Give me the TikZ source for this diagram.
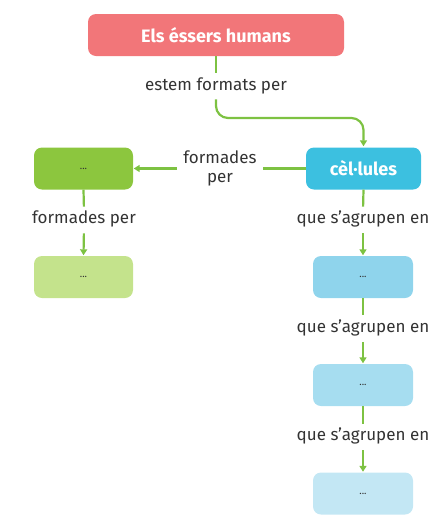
\documentclass[tikz,border=0pt]{standalone}
\usepackage{fontspec}
\setmainfont{Fira Sans}
\usetikzlibrary{arrows.meta}
\definecolor{cpink}{HTML}{F27679}
\definecolor{cgreen}{HTML}{8CC63E}
\definecolor{cgreenl}{HTML}{C4E38C}
\definecolor{ccyan}{HTML}{3CC0E0}
\definecolor{cblueA}{HTML}{8FD4EC}
\definecolor{cblueB}{HTML}{A6DDF0}
\definecolor{cblueC}{HTML}{C3E7F4}
\definecolor{cline}{HTML}{7DC242}
\definecolor{ctext}{HTML}{333333}
\tikzset{
  box/.style={rounded corners=8pt, minimum height=42pt, inner sep=0pt, font=\fontsize{10}{10}\selectfont, text=ctext},
  boxbig/.style={rounded corners=8pt, minimum height=42pt, inner sep=0pt, font=\fontsize{18}{20}\selectfont\bfseries, text=white},
  lab/.style={font=\fontsize{17}{19.5}\selectfont, text=ctext, inner sep=0pt, align=center},
  conn/.style={draw=cline, line width=2.2pt},
  arr/.style={conn, -{Triangle[length=6pt,width=7pt]}},
}
\begin{document}
\begin{tikzpicture}[x=1pt,y=-1pt]
\useasboundingbox (0,0) rectangle (432,515);
% nodes
\node[boxbig, fill=cpink, minimum width=256pt] (top) at (216,35) {Els éssers humans};
\node[boxbig, fill=ccyan, minimum width=115pt] (cel) at (363.5,168.5) {cèl·lules};
\node[box, fill=cgreen, minimum width=99pt] (g1) at (83.5,168.5) {...};
\node[box, fill=cgreenl, minimum width=99pt] (g2) at (83.5,277) {...};
\node[box, fill=cblueA, minimum width=100pt] (b1) at (363,277) {...};
\node[box, fill=cblueB, minimum width=100pt] (b2) at (363,385) {...};
\node[box, fill=cblueC, minimum width=100pt] (b3) at (363,493.5) {...};
% labels
\node[lab] (l1) at (216,86) {estem formats per};
\node[lab] (l2) at (220,168.5) {formades\\per};
\node[lab] (l3) at (84,219) {formades per};
\node[lab] (l4) at (363,219) {que s’agrupen en};
\node[lab] (l5) at (363,327.5) {que s’agrupen en};
\node[lab] (l6) at (363,436) {que s’agrupen en};
\coordinate (bend) at (363.5,118);
% connectors
\draw[conn, shorten >=5pt] (top.south) -- (l1.north);
\draw[arr, rounded corners=12pt, shorten <=5pt, shorten >=1pt] (l1.south) |- (bend) -- (cel.north);
\draw[conn, shorten >=6pt] (cel.west) -- (l2.east);
\draw[arr, shorten <=6pt, shorten >=0.5pt] (l2.west) -- (g1.east);
\draw[conn, shorten >=4pt] (g1.south) -- (l3.north);
\draw[arr, shorten <=6pt, shorten >=0.5pt] (l3.south) -- (g2.north);
\draw[conn, shorten >=4pt] (cel.south) -- (l4.north);
\draw[arr, shorten <=6pt, shorten >=0.5pt] (l4.south) -- (b1.north);
\draw[conn, shorten >=4pt] (b1.south) -- (l5.north);
\draw[arr, shorten <=6pt, shorten >=0.5pt] (l5.south) -- (b2.north);
\draw[conn, shorten >=4pt] (b2.south) -- (l6.north);
\draw[arr, shorten <=6pt, shorten >=0.5pt] (l6.south) -- (b3.north);
\end{tikzpicture}
\end{document}
